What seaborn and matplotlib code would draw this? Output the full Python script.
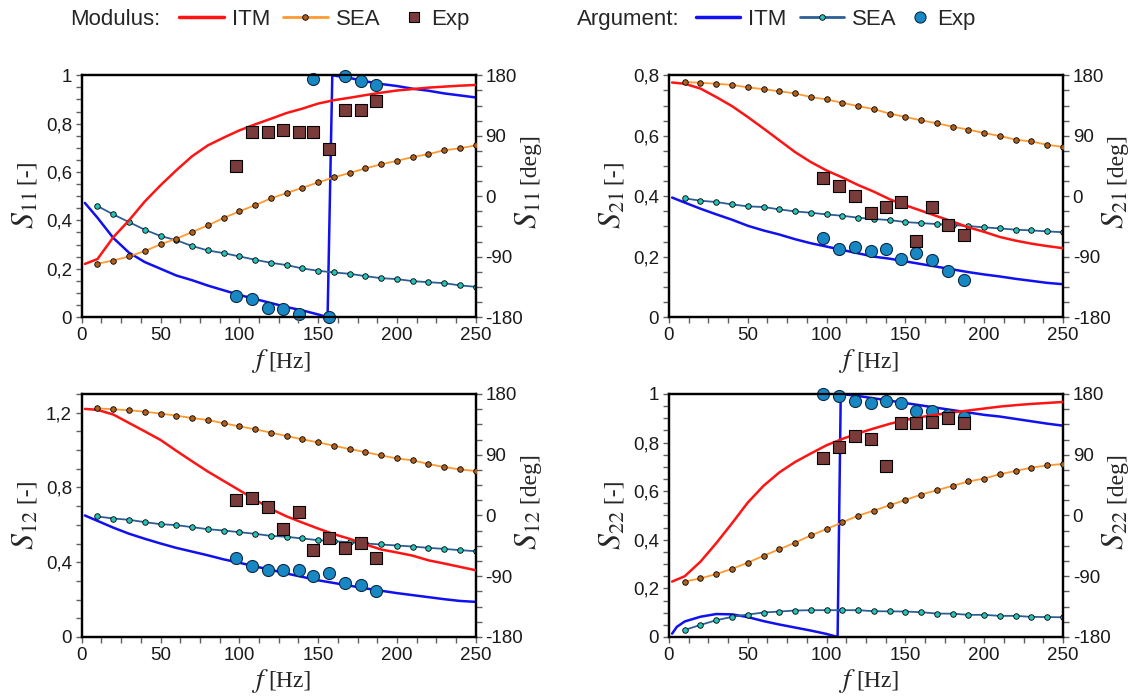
import numpy as np
import pandas as pd
import matplotlib
matplotlib.use("Agg")
import matplotlib.pyplot as plt
from matplotlib.lines import Line2D
from matplotlib.ticker import FuncFormatter, MultipleLocator
from matplotlib.transforms import ScaledTranslation
import seaborn as sns

# ---------------------------------------------------------------- data
f_itm = [2, 10, 20, 30, 40, 50, 60, 70, 80, 90, 100, 110, 120, 130, 140,
         150, 160, 170, 180, 190, 200, 210, 220, 230, 240, 250]
f_sea = [10, 20, 30, 40, 50, 60, 70, 80, 90, 100, 110, 120, 130, 140, 150,
         160, 170, 180, 190, 200, 210, 220, 230, 240, 250]
f_exp = [98, 108, 118, 128, 138, 147, 157, 167, 177, 187]

# S11
s11_mod_itm = [0.22, 0.24, 0.33, 0.40, 0.478, 0.545, 0.607, 0.665, 0.71, 0.742,
               0.772, 0.797, 0.82, 0.844, 0.862, 0.883, 0.897, 0.907, 0.918,
               0.928, 0.937, 0.943, 0.949, 0.953, 0.957, 0.96]
s11_mod_sea = [0.221, 0.234, 0.251, 0.273, 0.301, 0.324, 0.352, 0.379, 0.41,
               0.437, 0.463, 0.491, 0.513, 0.535, 0.557, 0.578, 0.596, 0.615,
               0.632, 0.646, 0.662, 0.674, 0.69, 0.698, 0.71]
s11_mod_exp = [0.625, 0.766, 0.766, 0.775, 0.766, 0.766, 0.697, 0.855, 0.855, 0.894]
s11_f_arg_itm = [2, 10, 20, 30, 40, 50, 60, 70, 80, 90, 100, 110, 120, 130, 140,
                 150, 156, 159, 170, 180, 190, 200, 210, 220, 230, 240, 250]
s11_arg_itm = [-10, -32, -62, -84, -98, -108, -118, -125, -133, -140, -147, -153,
               -159, -165, -170, -176, -180, 180, 176, 171, 167, 164, 160, 157,
               153, 150, 147]
s11_arg_sea = [-14.6, -27.1, -38.5, -49.9, -59.2, -65.5, -74.1, -80.7, -84.7,
               -89.6, -94.6, -99.1, -102.5, -107.5, -111, -113.5, -115.5, -119,
               -122, -123.4, -126.4, -128, -129.4, -132.8, -134.8]
s11_arg_exp = [-148.7, -153.7, -166, -167.6, -176, 175, -180, 178.8, 171.6, 165]

# S21
s21_mod_itm = [0.776, 0.772, 0.756, 0.728, 0.698, 0.662, 0.624, 0.585, 0.546,
               0.513, 0.485, 0.462, 0.437, 0.415, 0.39, 0.37, 0.352, 0.334,
               0.316, 0.297, 0.282, 0.265, 0.253, 0.243, 0.235, 0.228]
s21_mod_sea = [0.778, 0.775, 0.772, 0.768, 0.76, 0.754, 0.747, 0.74, 0.728,
               0.72, 0.709, 0.698, 0.688, 0.673, 0.662, 0.651, 0.641, 0.63,
               0.62, 0.609, 0.599, 0.587, 0.581, 0.57, 0.563]
s21_mod_exp = [0.461, 0.433, 0.402, 0.344, 0.363, 0.38, 0.252, 0.365, 0.305, 0.272]
s21_f_arg_itm = f_itm
s21_arg_itm = [-2, -9.5, -18.6, -27, -35, -44, -51, -57, -64, -70, -75, -80,
               -85, -90, -93, -97, -101, -105, -109, -113, -116.5, -119.5,
               -123, -126, -129, -131]
s21_arg_sea = [-3.2, -6.7, -8.7, -12.2, -15.1, -16.1, -19.6, -22.6, -24.6,
               -27.1, -29.1, -32, -34, -35.5, -38.5, -40, -41.5, -43, -44.4,
               -46.4, -47.9, -49.9, -50.9, -52.4, -53.6]
s21_arg_exp = [-62.3, -78.2, -75.2, -81.7, -78.2, -93.1, -84.7, -95.6, -112, -124.9]

# S12
s12_mod_itm = [1.22, 1.215, 1.19, 1.145, 1.10, 1.054, 0.996, 0.94, 0.885,
               0.835, 0.785, 0.735, 0.685, 0.645, 0.612, 0.58, 0.55, 0.525,
               0.495, 0.468, 0.452, 0.435, 0.41, 0.393, 0.375, 0.357]
s12_mod_sea = [1.223, 1.218, 1.213, 1.205, 1.195, 1.184, 1.171, 1.161, 1.143,
               1.127, 1.111, 1.093, 1.075, 1.057, 1.041, 1.023, 1.005, 0.989,
               0.971, 0.955, 0.945, 0.925, 0.909, 0.896, 0.888]
s12_mod_exp = [0.732, 0.746, 0.693, 0.575, 0.670, 0.464, 0.532, 0.477, 0.504, 0.425]
s12_f_arg_itm = f_itm
s12_arg_itm = [0, -8, -18, -27, -34.5, -41.5, -48, -53.5, -59, -65, -70, -75.5,
               -80.5, -86, -91, -96, -100, -104, -108, -111.5, -115, -118,
               -121, -124, -126.6, -128]
s12_arg_sea = [-1.5, -4.5, -6.4, -9.9, -12.9, -14.3, -17.3, -20.3, -22.3,
               -24.7, -27.2, -30.2, -31.6, -34.1, -36.6, -38.1, -39.6, -41.5,
               -43, -44.5, -46, -48, -49.5, -51.4, -52.9]
s12_arg_exp = [-62.8, -74.7, -81.1, -81.1, -81.1, -90, -85, -99.4, -102.4, -112.3]

# S22
s22_mod_itm = [0.228, 0.25, 0.31, 0.386, 0.468, 0.553, 0.622, 0.677, 0.72,
               0.755, 0.789, 0.815, 0.838, 0.858, 0.877, 0.893, 0.905, 0.915,
               0.924, 0.932, 0.94, 0.948, 0.954, 0.959, 0.963, 0.967]
s22_mod_sea = [0.228, 0.241, 0.259, 0.28, 0.306, 0.334, 0.361, 0.388, 0.418,
               0.444, 0.472, 0.499, 0.52, 0.542, 0.564, 0.586, 0.604, 0.622,
               0.64, 0.652, 0.67, 0.683, 0.697, 0.706, 0.712]
s22_mod_exp = [0.737, 0.783, 0.825, 0.814, 0.705, 0.879, 0.879, 0.886, 0.903, 0.879]
s22_f_arg_itm = [2, 5, 10, 20, 30, 40, 50, 60, 70, 80, 90, 100, 107, 109, 120,
                 130, 140, 150, 160, 170, 180, 190, 200, 210, 220, 230, 240, 250]
s22_arg_itm = [-175, -165, -157, -150, -146, -146.5, -150.5, -156.5, -161.5,
               -166, -170.5, -175.5, -180, 180, 177, 173.5, 170, 166.5, 163,
               159.5, 156, 152.5, 149, 146.5, 143, 139.5, 136, 133]
s22_arg_sea = [-169.6, -162.1, -155.2, -150.2, -146.7, -143.8, -142.3, -140.8,
               -140.3, -140.3, -140.3, -140.3, -141.8, -142, -142.3, -143.3,
               -145.3, -145.5, -147.2, -147.2, -148.7, -148.7, -150.2, -150.5,
               -150.8]
s22_arg_exp = [180, 176.5, 169.6, 166.6, 169.6, 166.6, 155.2, 154.2, 148.7, 146.2]

# ---------------------------------------------------------------- style
sns.set_theme(style="ticks")
plt.rcParams.update({
    "font.family": ["Liberation Sans", "DejaVu Sans"],
    "mathtext.fontset": "stix",
    "axes.linewidth": 1.6,
    "axes.edgecolor": "black",
})

C_MOD_ITM = "#ff1414"
C_MOD_SEA = "#ff9a33"
C_MOD_EXP = "#7a3b3b"
C_ARG_ITM = "#1010f0"
C_ARG_SEA = "#2d5f96"
C_ARG_SEA_MK = "#27c2b8"
C_ARG_EXP = "#1888c4"

TICK_FS = 13.5
SYM_FS = 23      # italic S
F_FS = 20        # italic f
UNIT_FS = 17     # bracketed units
SERIF = ["Liberation Serif", "DejaVu Serif"]

comma_fmt = FuncFormatter(lambda v, p: f"{v:g}".replace(".", ","))
deg_fmt = FuncFormatter(lambda v, p: f"{int(round(v))}")

fig = plt.figure(figsize=(11.3, 6.97), dpi=100)

panels = [
    # name, rect, ylim, major, minor, itm, sea, exp, f_arg_itm, arg_itm, arg_sea, arg_exp
    ("11", [0.0723, 0.545, 0.3487, 0.347], 1.0, 0.2, 0.05,
     s11_mod_itm, s11_mod_sea, s11_mod_exp, s11_f_arg_itm, s11_arg_itm, s11_arg_sea, s11_arg_exp),
    ("21", [0.592, 0.545, 0.3487, 0.347], 0.8, 0.2, 0.05,
     s21_mod_itm, s21_mod_sea, s21_mod_exp, s21_f_arg_itm, s21_arg_itm, s21_arg_sea, s21_arg_exp),
    ("12", [0.0723, 0.0861, 0.3487, 0.3487], 1.3, 0.4, 0.1,
     s12_mod_itm, s12_mod_sea, s12_mod_exp, s12_f_arg_itm, s12_arg_itm, s12_arg_sea, s12_arg_exp),
    ("22", [0.592, 0.0861, 0.3487, 0.3487], 1.0, 0.2, 0.05,
     s22_mod_itm, s22_mod_sea, s22_mod_exp, s22_f_arg_itm, s22_arg_itm, s22_arg_sea, s22_arg_exp),
]


def style_ticks(axis_obj):
    axis_obj.tick_params(which="both", direction="out", length=4, width=1.0,
                         color="#606060", labelsize=TICK_FS, labelcolor="#1a1a1a",
                         pad=3)


def shifted(ax, dx_px, dy_px):
    """Axes-fraction transform shifted by a pixel offset."""
    return ax.transAxes + ScaledTranslation(dx_px / 100, dy_px / 100,
                                            fig.dpi_scale_trans)


def split_label(ax, x, y, dx, dy, sym, unit, rotation, sym_fs=SYM_FS):
    """Large italic symbol followed by a smaller bracketed unit."""
    tr = shifted(ax, dx, dy)
    ax.text(x, y, sym, transform=tr, fontsize=sym_fs, family=SERIF,
            rotation=rotation, rotation_mode="anchor", ha="right",
            va="baseline", clip_on=False)
    ax.text(x, y, unit, transform=tr, fontsize=UNIT_FS, family=SERIF,
            rotation=rotation, rotation_mode="anchor", ha="left",
            va="baseline", clip_on=False)


for (name, rect, ytop, ymaj, ymin, m_itm, m_sea, m_exp,
     fa_itm, a_itm, a_sea, a_exp) in panels:
    ax = fig.add_axes(rect)
    ax2 = ax.twinx()

    # modulus on the left axis
    sns.lineplot(x=f_itm, y=m_itm, ax=ax, color=C_MOD_ITM, linewidth=1.8,
                 estimator=None, sort=False, zorder=3)
    sns.lineplot(x=f_sea, y=m_sea, ax=ax, color=C_MOD_SEA, linewidth=1.3,
                 marker="o", markersize=4, markerfacecolor="#b0601a",
                 markeredgecolor="black", markeredgewidth=0.6,
                 estimator=None, sort=False, zorder=3)
    sns.scatterplot(x=f_exp, y=m_exp, ax=ax, marker="s", s=64, color=C_MOD_EXP,
                    edgecolor="black", linewidth=0.8, zorder=4, clip_on=False)

    # argument on the right axis
    sns.lineplot(x=fa_itm, y=a_itm, ax=ax2, color=C_ARG_ITM, linewidth=1.8,
                 estimator=None, sort=False, zorder=3)
    sns.lineplot(x=f_sea, y=a_sea, ax=ax2, color=C_ARG_SEA, linewidth=1.3,
                 marker="o", markersize=4, markerfacecolor=C_ARG_SEA_MK,
                 markeredgecolor="black", markeredgewidth=0.6,
                 estimator=None, sort=False, zorder=3)
    sns.scatterplot(x=f_exp, y=a_exp, ax=ax2, marker="o", s=75, color=C_ARG_EXP,
                    edgecolor="#0b2a45", linewidth=0.8, zorder=4, clip_on=False)

    ax.set_xlim(0, 250)
    ax.set_ylim(0, ytop)
    ax2.set_ylim(-180, 180)
    ax.xaxis.set_major_locator(MultipleLocator(50))
    ax.xaxis.set_minor_locator(MultipleLocator(12.5))
    ax.yaxis.set_major_locator(MultipleLocator(ymaj))
    ax.yaxis.set_minor_locator(MultipleLocator(ymin))
    ax.yaxis.set_major_formatter(comma_fmt)
    ax2.yaxis.set_major_locator(MultipleLocator(90))
    ax2.yaxis.set_minor_locator(MultipleLocator(22.5))
    ax2.yaxis.set_major_formatter(deg_fmt)
    style_ticks(ax)
    style_ticks(ax2)
    for a in (ax, ax2):
        a.set_xlabel("")
        a.set_ylabel("")
        for sp in a.spines.values():
            sp.set_linewidth(1.6)
            sp.set_color("black")

    # axis titles: f [Hz] below, S_ij [-] left, S_ij [deg] right
    split_label(ax, 0.5, 0.0, -10, -50, r"$f$", "[Hz]", 0, sym_fs=F_FS)
    split_label(ax, 0.0, 0.5, -48, 5, rf"$S_{{{name}}}$", " [-]", 90)
    split_label(ax, 1.0, 0.5, 61, 5, rf"$S_{{{name}}}$", " [deg]", 90)

    ax.set_zorder(ax2.get_zorder() + 1)
    ax.patch.set_visible(False)

# ---------------------------------------------------------------- legends
LEG_FS = 16
LEG_FONT = ["Liberation Sans", "DejaVu Sans"]
LEG_Y = 0.972
fig.text(0.062, LEG_Y, "Modulus:", fontsize=LEG_FS, family=LEG_FONT,
         va="center", ha="left")
fig.text(0.511, LEG_Y, "Argument:", fontsize=LEG_FS, family=LEG_FONT,
         va="center", ha="left")

mod_lines = [
    Line2D([], [], color=C_MOD_ITM, lw=2.5),
    Line2D([], [], color=C_MOD_SEA, lw=2.0, marker="o", markersize=4,
           markerfacecolor="#b0601a", markeredgecolor="black", markeredgewidth=0.6),
]
mod_exp = [Line2D([], [], ls="none", marker="s", markersize=7, color=C_MOD_EXP,
                  markeredgecolor="black", markeredgewidth=0.8)]
arg_lines = [
    Line2D([], [], color=C_ARG_ITM, lw=2.5),
    Line2D([], [], color=C_ARG_SEA, lw=2.0, marker="o", markersize=4,
           markerfacecolor=C_ARG_SEA_MK, markeredgecolor="black", markeredgewidth=0.6),
]
arg_exp = [Line2D([], [], ls="none", marker="o", markersize=8, color=C_ARG_EXP,
                  markeredgecolor="#0b2a45", markeredgewidth=0.8)]

line_kw = dict(ncol=2, frameon=False, handlelength=2.0, handletextpad=0.35,
               columnspacing=0.6, loc="center left",
               prop={"family": LEG_FONT, "size": LEG_FS})
mark_kw = dict(frameon=False, handlelength=0.8, handletextpad=0.35,
               loc="center left", prop={"family": LEG_FONT, "size": LEG_FS})
fig.legend(mod_lines, ["ITM", "SEA"], bbox_to_anchor=(0.141, LEG_Y), **line_kw)
fig.legend(mod_exp, ["Exp"], bbox_to_anchor=(0.341, LEG_Y), **mark_kw)
fig.legend(arg_lines, ["ITM", "SEA"], bbox_to_anchor=(0.598, LEG_Y), **line_kw)
fig.legend(arg_exp, ["Exp"], bbox_to_anchor=(0.789, LEG_Y), **mark_kw)

fig.savefig("out.png", dpi=100)
